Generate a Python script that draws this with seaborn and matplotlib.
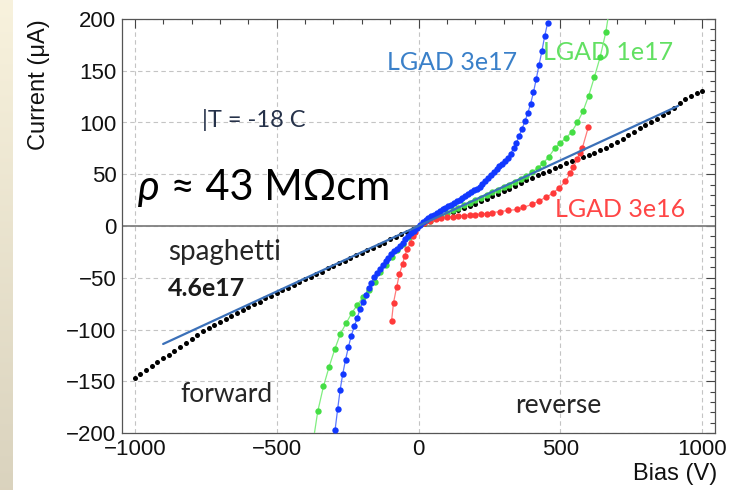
import numpy as np
import pandas as pd
import matplotlib
matplotlib.use("Agg")
import matplotlib.pyplot as plt
from matplotlib.ticker import MultipleLocator
import seaborn as sns

# ---------------- data (Bias in V, Current in uA) ----------------
spag_v = list(range(-1000, 1001, 20))
spag_i = [-147, -143, -139, -135, -131.5, -128, -124.5, -121, -117, -113,
          -109, -105, -101.5, -98.5, -95.5, -92.5, -89.5, -86.5, -84, -81,
          -78.5, -75.5, -73, -70, -67.5, -65, -62, -59.5, -57, -54,
          -51.5, -49, -46.5, -44, -41, -38.5, -36, -33.5, -31, -28.5,
          -26, -23.5, -21, -18.5, -16, -13, -10.5, -8, -5.5, -3, 0,
          2.3, 4.6, 6.9, 9.1, 11.2, 13.3, 15.3, 17.3, 19.3, 21.6,
          24, 26.3, 28.6, 31, 33.5, 36, 38.8, 41.5, 44, 46.5,
          48.8, 51, 53.5, 56, 58.3, 60.5, 62.5, 64.5, 66.8, 69,
          71, 73.2, 75.7, 78.3, 81, 84.3, 87.8, 91.3, 94.5, 97.5,
          100.5, 103.5, 107, 110.5, 114, 118.5, 122.5, 126, 128.5, 130.5]

l3e17_v = [-294, -285, -276, -267, -257, -247, -237, -226, -216, -206,
           -196, -186, -176, -166, -156, -146, -136, -126, -116, -106,
           -96, -86, -76, -66, -56, -46, -36, -26, -16, -6] + list(range(5, 456, 10))
l3e17_i = [-197, -177, -158, -143, -129, -117, -106, -97, -88.5, -80.5,
           -73, -66.5, -60, -55, -49.5, -45.5, -41.5, -37.5, -34, -30.5,
           -27.5, -24.5, -22, -19, -16, -13, -10, -7, -4.5, -1.5,
           1, 3.5, 5.5, 7.5, 9.3, 11, 12.8, 14.5, 16, 17.7,
           19.2, 20.7, 22.2, 23.8, 25.5, 27.2, 29, 30.8, 32.5, 34.3,
           36, 38, 40.5, 43, 46, 49, 52, 55, 58, 60,
           62.5, 66, 70, 75, 80, 87, 94, 101, 109, 118,
           129, 142, 156, 169, 184, 196]

l1e17_v = [-375, -355, -335, -315, -295, -275, -255, -235, -215, -195,
           -175, -155, -135, -115, -95, -75, -55, -35, -15] + list(range(20, 681, 20))
l1e17_i = [-215, -179, -155, -136, -119, -104, -94, -84, -76, -68.5,
           -61.5, -54.5, -44, -37.5, -30, -23.5, -17, -11, -4.5,
           2.5, 5, 7.5, 10, 12.5, 15, 17.5, 20, 22.5, 25,
           27.5, 30, 32.5, 35, 37.5, 40, 42.5, 45.5, 48.5, 52,
           56, 61, 67, 75, 80.5, 85, 91, 100, 111, 126,
           144, 163, 187, 222]

l3e16_v = [-95, -88, -77, -67, -56, -49, -39, -28, -21, -11,
           20, 40, 60, 80, 100, 120, 140, 160, 180, 200, 220, 240, 260,
           289, 317, 348, 370, 401, 423, 451, 475, 496, 518, 535, 546,
           560, 570, 577, 599]
l3e16_i = [-92, -74, -59, -46, -37, -29, -22, -16, -10, -6,
           3, 5, 6.5, 7.5, 8.3, 9, 9.5, 10, 10.5, 11, 11.5, 12, 13,
           14, 15, 16, 18, 21, 24, 28, 32, 37, 43, 51, 57,
           65, 71, 75, 96]

fit_v = [-900, 915]
fit_i = [-114, 116]

x_ticks = [-1000, -500, 0, 500, 1000]
y_ticks = [-200, -150, -100, -50, 0, 50, 100, 150, 200]

# ---------------- style ----------------
sns.set_style("white")
axis_font = ["Liberation Sans", "DejaVu Sans"]
ann = ["Lato", "DejaVu Sans"]
plt.rcParams["font.family"] = axis_font

W, H = 729, 490
fig = plt.figure(figsize=(W / 100, H / 100), dpi=100)
fig.patch.set_facecolor("white")

# beige side strip
strip = fig.add_axes([0, 0, 13 / W, 1])
top_c = np.array([0.972, 0.949, 0.867])
bot_c = np.array([0.855, 0.827, 0.745])
t = np.linspace(0, 1, 200)[:, None, None]
strip.imshow(top_c * (1 - t) + bot_c * t, aspect="auto")
strip.set_axis_off()

L, R, T, B = 122, 715, 19, 433
ax = fig.add_axes([L / W, 1 - B / H, (R - L) / W, (B - T) / H])
ax.set_xlim(-1045, 1045)
ax.set_ylim(-200, 200)

ax.set_axisbelow(True)
ax.grid(True, which="major", linestyle=(0, (4, 3)), color="#c4c4c4", lw=0.8)
ax.axhline(0, color="#808080", lw=1.3, zorder=1)

def series(v, i):
    return pd.DataFrame({"Bias": v, "Current": i})

# black spaghetti points
sns.scatterplot(data=series(spag_v, spag_i), x="Bias", y="Current", ax=ax,
                color="black", s=13, linewidth=0, zorder=3)

for v, i, mc, lc in [(l1e17_v, l1e17_i, "#45de45", "#80ee80"),
                     (l3e16_v, l3e16_i, "#ff3a3a", "#ff7a7a"),
                     (l3e17_v, l3e17_i, "#1238ff", "#5a78ff")]:
    df = series(v, i)
    sns.lineplot(data=df, x="Bias", y="Current", ax=ax, sort=False,
                 estimator=None, color=lc, lw=0.9, zorder=4)
    sns.scatterplot(data=df, x="Bias", y="Current", ax=ax, color=mc,
                    s=21, linewidth=0, zorder=5)

sns.lineplot(data=series(fit_v, fit_i), x="Bias", y="Current", ax=ax,
             color="#3b70b8", lw=1.6, zorder=6)

# axes / ticks
ax.set_xticks(x_ticks)
ax.set_yticks(y_ticks)
ax.set_xticklabels([f"{v}".replace("-", "\u2212") for v in x_ticks], family=axis_font)
ax.set_yticklabels([f"{v}".replace("-", "\u2212") for v in y_ticks], family=axis_font)
ax.xaxis.set_minor_locator(MultipleLocator(100))
ax.yaxis.set_minor_locator(MultipleLocator(10))
ax.tick_params(which="both", direction="in", top=True, right=True,
               color="#444444", labelsize=16, labelcolor="#111111")
ax.tick_params(which="major", length=6.5, width=0.8)
ax.tick_params(which="minor", length=3.5, width=0.8)
ax.tick_params(axis="x", pad=4)
ax.tick_params(axis="y", pad=4)
for sp in ax.spines.values():
    sp.set_color("#555555")
    sp.set_linewidth(0.9)

ax.set_xlabel("Bias (V)", fontsize=17, loc="right", family=axis_font, color="#111111")
ax.set_ylabel("Current (\u03bcA)", fontsize=17, loc="top", family=axis_font, color="#111111")
ax.xaxis.set_label_coords((717 - L) / (R - L), -(463 - B) / (B - T))
ax.yaxis.set_label_coords(-(L - 50) / (R - L), 1.0)

# annotations
ax.text(-111, 150.7, "LGAD 3e17", color="#3a80c9", fontsize=18, family=ann, va="baseline")
ax.text(439, 160.4, "LGAD 1e17", color="#62e062", fontsize=18, family=ann, va="baseline")
ax.text(481, 8.7, "LGAD 3e16", color="#ff4646", fontsize=18, family=ann, va="baseline")
ax.text(-763, 95.2, "|T = -18 C", color="#26324a", fontsize=17, family=ann, va="baseline")
rho = ax.text(-989, 25.1, "\u03c1", color="black", fontsize=30, family=ann,
              style="italic", va="baseline")
ax.annotate(" \u2248 43 M\u03a9cm", xy=(1, 0), xycoords=rho, color="black",
            fontsize=30, family=ann, va="bottom", ha="left")
ax.text(-883, -32.9, "spaghetti", color="#262626", fontsize=20, family=ann, va="baseline")
ax.text(-883, -67.6, "4.6e17", color="#1a1a1a", fontsize=18, family=ann,
        fontweight="bold", va="baseline")
ax.text(-841, -170, "forward", color="#262626", fontsize=19, family=ann, va="baseline")
ax.text(340, -180.6, "reverse", color="#262626", fontsize=19, family=ann, va="baseline")

fig.savefig("out.png", dpi=100)
